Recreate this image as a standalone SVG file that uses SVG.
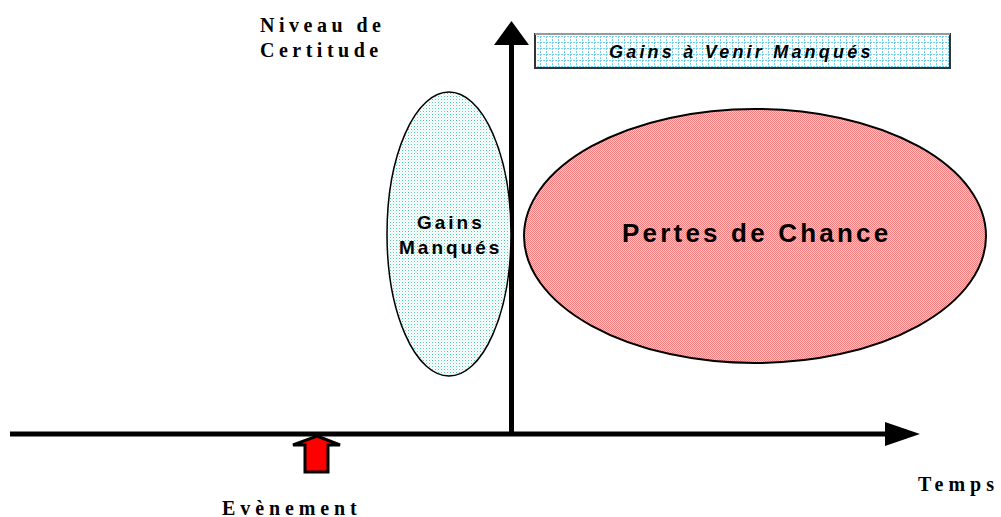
<svg xmlns="http://www.w3.org/2000/svg" width="1001" height="517" viewBox="0 0 1001 517">
<defs>
<style>
.serif{font-family:"Liberation Serif","Times New Roman",serif;font-weight:bold;fill:#000}
.sans{font-family:"Liberation Sans",Arial,sans-serif;font-weight:bold;fill:#000}
.axis{stroke:#000;stroke-width:5;fill:none}
</style>
<pattern id="grid" width="6" height="6" patternUnits="userSpaceOnUse">
<rect width="6" height="6" fill="#ffffff"/>
<path d="M0 0.5H6M0.5 0V6" stroke="#6fd2f0" stroke-width="1" stroke-dasharray="2 1"/>
</pattern>
<pattern id="dotsCyan" width="3" height="3" patternUnits="userSpaceOnUse">
<rect width="3" height="3" fill="#ffffff"/>
<rect x="0" y="0" width="1" height="1" fill="#50cdb0"/>
<rect x="1.5" y="1.5" width="1" height="1" fill="#a0e4d8"/>
</pattern>
<pattern id="dotsRed" width="2" height="2" patternUnits="userSpaceOnUse">
<rect width="2" height="2" fill="#ffc4c4"/>
<rect x="0" y="0" width="1" height="1" fill="#f28080"/>
<rect x="1" y="1" width="1" height="1" fill="#f28080"/>
</pattern>
</defs>

<g id="connectors">
<line class="axis" x1="10" y1="434" x2="887" y2="434" stroke-width="4"/>
<polygon points="885,422 920,434 885,446" fill="#000"/>
<line class="axis" x1="511.5" y1="434" x2="511.5" y2="44"/>
<polygon points="494,45 511.5,21 529,45" fill="#000"/>
</g>

<g id="gains-venir">
<rect x="535" y="34" width="415" height="34" fill="url(#grid)" stroke="#333" stroke-width="2"/>
<line x1="535" y1="34" x2="950" y2="34" stroke="#999" stroke-width="2"/>
<text class="sans" x="609" y="58" font-size="18" font-style="italic" letter-spacing="3.2">Gains à Venir Manqués</text>
</g>

<g id="gains-manques">
<ellipse cx="449" cy="234" rx="62" ry="142" fill="url(#dotsCyan)" stroke="#000" stroke-width="1.5"/>
<text class="sans" x="417" y="229" font-size="19" letter-spacing="3">Gains</text>
<text class="sans" x="399" y="254" font-size="19" letter-spacing="3">Manqués</text>
</g>

<g id="pertes-chance">
<ellipse cx="755" cy="236" rx="231" ry="127" fill="url(#dotsRed)" stroke="#000" stroke-width="2"/>
<text class="sans" x="622" y="242" font-size="26" letter-spacing="3.2">Pertes de Chance</text>
</g>

<g id="evenement">
<polygon points="317,436 340,445 328,445 328,472 305,472 305,445 293,445" fill="#ff0000" stroke="#000" stroke-width="3" stroke-linejoin="miter"/>
<text class="serif" x="222" y="515" font-size="20" letter-spacing="4.9">Evènement</text>
</g>

<g id="labels">
<text class="serif" x="260" y="31.5" font-size="20" letter-spacing="4.5">Niveau de</text>
<text class="serif" x="260" y="56.5" font-size="20" letter-spacing="4.5">Certitude</text>
<text class="serif" x="918" y="491" font-size="20" letter-spacing="5">Temps</text>
</g>
</svg>
